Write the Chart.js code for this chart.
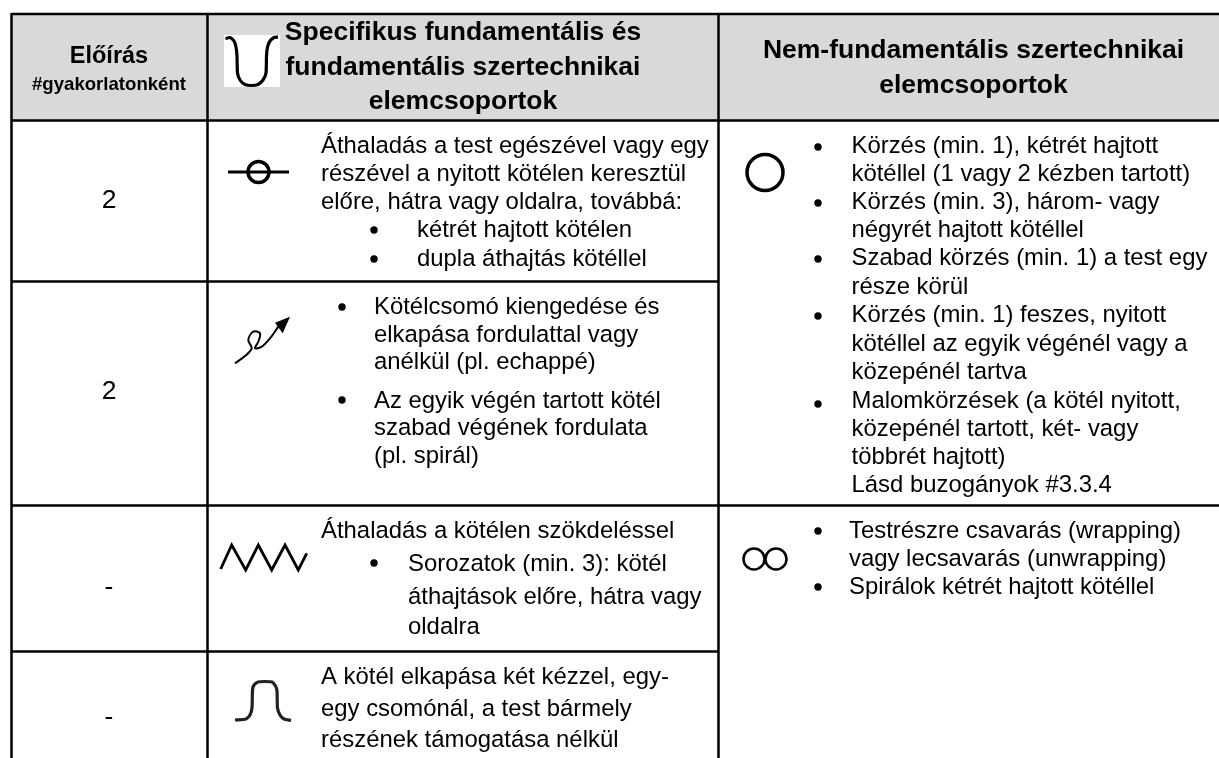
<!DOCTYPE html>
<html>
<head>
<meta charset="utf-8">
<style>
  html, body { margin: 0; padding: 0; background: #fff; overflow: hidden; }
  canvas { display: block; }
</style>
<script src="https://cdn.jsdelivr.net/npm/chart.js@4"></script>
</head>
<body>
<canvas id="table" width="1219" height="758"></canvas>
<script>
// Table content
const requirementTitle = 'Előírás';
const requirementSub = '#gyakorlatonként';
const requirements = ['2', '2', '-', '-'];
const specificHeader = ['Specifikus fundamentális és', 'fundamentális szertechnikai', 'elemcsoportok'];
const otherHeader = ['Nem-fundamentális szertechnikai', 'elemcsoportok'];

const passLines = ['Áthaladás a test egészével vagy egy', 'részével a nyitott kötélen keresztül', 'előre, hátra vagy oldalra, továbbá:'];
const passBullets = ['kétrét hajtott kötélen', 'dupla áthajtás kötéllel'];
const releaseBullets = ['Kötélcsomó kiengedése és', 'elkapása fordulattal vagy', 'anélkül (pl. echappé)', 'Az egyik végén tartott kötél', 'szabad végének fordulata', '(pl. spirál)'];
const jumpIntro = ['Áthaladás a kötélen szökdeléssel'];
const jumpBullets = ['Sorozatok (min. 3): kötél', 'áthajtások előre, hátra vagy', 'oldalra'];
const catchLines = ['A kötél elkapása két kézzel, egy-', 'egy csomónál, a test bármely', 'részének támogatása nélkül'];
const circleLines = ['Körzés (min. 1), kétrét hajtott', 'kötéllel (1 vagy 2 kézben tartott)', 'Körzés (min. 3), három- vagy', 'négyrét hajtott kötéllel', 'Szabad körzés (min. 1) a test egy', 'része körül', 'Körzés (min. 1) feszes, nyitott', 'kötéllel az egyik végénél vagy a', 'közepénél tartva', 'Malomkörzések (a kötél nyitott,', 'közepénél tartott, két- vagy', 'többrét hajtott)', 'Lásd buzogányok #3.3.4'];
const wrapLines = ['Testrészre csavarás (wrapping)', 'vagy lecsavarás (unwrapping)', 'Spirálok kétrét hajtott kötéllel'];

// Baselines of the text lines above
const requirementY = [207.5, 398.5, 595, 725];
const specificHeaderY = [40, 75, 109];
const otherHeaderY = [58, 93];
const passLinesY = [153, 181, 209];
const passBulletsY = [237, 266];
const releaseBulletsY = [314, 342, 369, 408, 435, 463];
const jumpIntroY = [538];
const jumpBulletsY = [571, 604, 634];
const catchLinesY = [684, 716, 747];
const circleLinesY = [153, 181, 209, 237, 265, 294, 322, 351, 379, 408, 436, 464, 492];
const wrapLinesY = [538, 566, 594];

// Bullet dots
const bulletX = [374, 374, 342, 342, 374, 818, 818, 818, 818, 818, 818, 818];
const bulletY = [230, 259, 307, 400, 563, 147, 203, 259, 316, 404, 531, 587];

// Table rules
const ruleX = [11.5, 207.5, 718.5];
const ruleTop = 14;
const headerBottom = 120.5;
const rowRulesY = [281.5, 651.5];
const fullRuleY = 505.5;

// Exercise group symbols
const uSymbolX = [225.5, 230, 234, 236, 237, 237.5, 240, 245, 251.5, 258, 263, 266, 266.5, 267.5, 270, 274, 278];
const uSymbolY = [38.5, 37.5, 41, 47, 56, 73, 80, 84.5, 85.5, 84.5, 80, 73, 56, 47, 41, 37.5, 37];
const thetaX = [228, 289];
const thetaY = [172, 172];
const loopX = [235, 245, 251.7, 248.3, 253.3, 260, 258.3, 255, 261.7, 270, 278.3];
const loopY = [363.3, 356, 348.3, 340, 331.7, 333.3, 341.7, 348.3, 346.7, 338.3, 326.7];
const arrowX = [290, 275, 282.7, 290];
const arrowY = [316.7, 322.7, 333.3, 316.7];
const zigzagX = [220.7, 231.7, 245.7, 258.3, 271.7, 285, 298.3, 306.7];
const zigzagY = [569, 545, 570, 545, 570, 545, 570, 553.3];
const bumpX = [235, 246, 250, 252, 252.5, 254, 258, 265, 272, 275.5, 277, 277.5, 280, 284, 291];
const bumpY = [720, 719, 715, 708, 690, 685, 682, 681.5, 682, 686, 691, 708, 715, 719, 720.5];
const ringX = [258.5, 765];
const ringY = [172, 172.5];
const twinRingX = [754, 776];
const twinRingY = [559, 559];

const pts = (xs, ys) => xs.map((x, i) => ({ x: x, y: ys[i] }));

function line(xs, ys, width, order, color) {
    return {
        data: pts(xs, ys),
        showLine: true,
        borderColor: color || '#000',
        borderWidth: width,
        pointRadius: 0,
        order: order || 1
    };
}

function area(xs, ys, color, order) {
    return {
        data: pts(xs, ys),
        showLine: true,
        fill: 'shape',
        backgroundColor: color,
        borderWidth: 0,
        pointRadius: 0,
        order: order
    };
}

const datasets = [
    area([11, 1219, 1219, 11], [14, 14, headerBottom, headerBottom], '#d9d9d9', 10),
    area([224, 280, 280, 224], [35, 35, 87, 87], '#fff', 9),
    // rules
    line([ruleX[0], 1219], [ruleTop, ruleTop], 2.5),
    line([ruleX[0], 1219], [headerBottom, headerBottom], 2.5),
    line([ruleX[0], 1219], [fullRuleY, fullRuleY], 2.5),
    line([ruleX[0], ruleX[2]], [rowRulesY[0], rowRulesY[0]], 2.5),
    line([ruleX[0], ruleX[2]], [rowRulesY[1], rowRulesY[1]], 2.5),
    line([ruleX[0], ruleX[0]], [13, 758], 2.5),
    line([ruleX[1], ruleX[1]], [13, 758], 2.5),
    line([ruleX[2], ruleX[2]], [13, 758], 2.5),
    // symbols
    Object.assign(line(uSymbolX, uSymbolY, 3.2), { tension: 0.2 }),
    line(thetaX, thetaY, 3),
    Object.assign(line(loopX, loopY, 2), { tension: 0.35 }),
    area(arrowX, arrowY, '#000', 1),
    line(zigzagX, zigzagY, 2.8),
    Object.assign(line(bumpX, bumpY, 3.2, 1, '#222'), { tension: 0.2 }),
    { data: pts(ringX, ringY), showLine: false, pointStyle: 'circle', pointRadius: [10.5, 18], pointBorderWidth: [3.5, 3.5], pointBorderColor: '#000', pointBackgroundColor: 'transparent', order: 1 },
    { data: pts(twinRingX, twinRingY), showLine: false, pointStyle: 'circle', pointRadius: 10.5, pointBorderWidth: 2.5, pointBorderColor: '#000', pointBackgroundColor: 'transparent', order: 1 },
    { data: pts(bulletX, bulletY), showLine: false, pointStyle: 'circle', pointRadius: 3.7, pointBorderWidth: 0, pointBackgroundColor: '#000', order: 1 }
];

const bodyFont = '23.9px "Liberation Sans"';
const headFont = 'bold 26.5px "Liberation Sans"';

// Draws the table text through the scales
const tableText = {
    id: 'tableText',
    afterDatasetsDraw(chart) {
        const c = chart.ctx;
        const sx = chart.scales.x;
        const sy = chart.scales.y;
        function put(lines, ys, x, font, align) {
            c.font = font;
            c.textAlign = align || 'left';
            c.textBaseline = 'alphabetic';
            c.fillStyle = '#000';
            lines.forEach((t, i) => c.fillText(t, sx.getPixelForValue(x), sy.getPixelForValue(ys[i])));
        }
        c.save();
        put([requirementTitle], [63], 109, 'bold 23.5px "Liberation Sans"', 'center');
        put([requirementSub], [90], 109, 'bold 18.6px "Liberation Sans"', 'center');
        put(specificHeader, specificHeaderY, 463, headFont, 'center');
        put(otherHeader, otherHeaderY, 973.5, headFont, 'center');
        put(requirements, requirementY, 109, '26.5px "Liberation Sans"', 'center');
        put(passLines, passLinesY, 321, bodyFont);
        put(passBullets, passBulletsY, 417, bodyFont);
        put(releaseBullets, releaseBulletsY, 374, bodyFont);
        put(jumpIntro, jumpIntroY, 321, bodyFont);
        put(jumpBullets, jumpBulletsY, 408, bodyFont);
        put(catchLines, catchLinesY, 321, bodyFont);
        put(circleLines, circleLinesY, 851.5, bodyFont);
        put(wrapLines, wrapLinesY, 849, bodyFont);
        c.restore();
    }
};

new Chart(document.getElementById('table').getContext('2d'), {
    type: 'scatter',
    data: { datasets: datasets },
    options: {
        responsive: false,
        animation: false,
        layout: { padding: 0, autoPadding: false },
        plugins: { legend: { display: false }, tooltip: { enabled: false }, title: { display: false } },
        scales: {
            x: { type: 'linear', min: 0, max: 1219, display: false },
            y: { type: 'linear', min: 0, max: 758, reverse: true, display: false }
        }
    },
    plugins: [tableText]
});
</script>
</body>
</html>
